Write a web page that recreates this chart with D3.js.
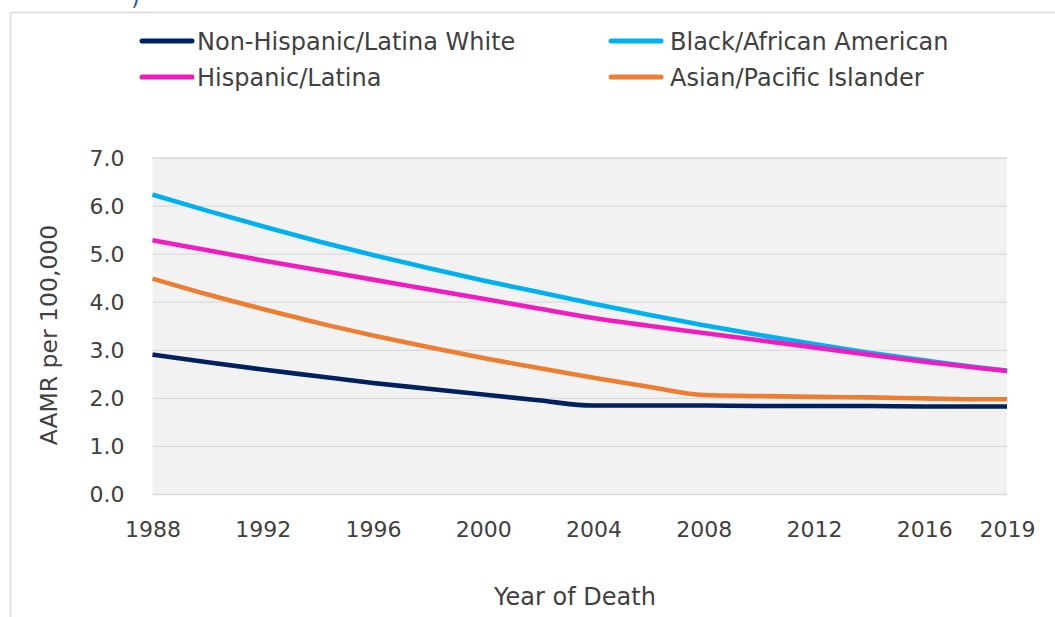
<!DOCTYPE html>
<html><head><meta charset="utf-8">
<script src="https://cdn.jsdelivr.net/npm/d3@7"></script>
<style>
html,body{margin:0;padding:0;background:#fff;}
svg{display:block;font-family:"DejaVu Sans",sans-serif;}
</style></head>
<body><svg id="c" width="1055" height="617"></svg>
<script>
const years = [1988,1990,1992,1994,1996,1998,2000,2002,2004,2006,2008,2010,2012,2014,2016,2018,2019];
const whiteVals    = [2.91,2.75,2.60,2.46,2.32,2.20,2.08,1.96,1.85,1.85,1.85,1.84,1.84,1.84,1.83,1.83,1.83];
const blackVals    = [6.24,5.90,5.58,5.27,4.98,4.71,4.45,4.21,3.97,3.74,3.52,3.32,3.13,2.95,2.79,2.64,2.58];
const hispanicVals = [5.29,5.08,4.87,4.67,4.47,4.27,4.07,3.87,3.67,3.51,3.36,3.21,3.06,2.91,2.76,2.63,2.57];
const asianVals    = [4.49,4.16,3.86,3.57,3.31,3.07,2.84,2.63,2.43,2.24,2.07,2.05,2.03,2.02,2.00,1.98,1.98];
const seriesNames  = ["Non-Hispanic/Latina White","Black/African American","Hispanic/Latina","Asian/Pacific Islander"];
const seriesColors = ["#002060","#00b0f0","#f01cc0","#ed7d31"];
const xTicks = [1988,1992,1996,2000,2004,2008,2012,2016,2019];
const yTicks = [0,1,2,3,4,5,6,7];
const xTitle = "Year of Death";
const yTitle = "AAMR per 100,000";

const svg = d3.select("#c");
const textColor = "#404040";
const fs = 22, fsBig = 24;
// outer frame
svg.append("path").attr("d","M10.5,617 V12.5 H1055").attr("fill","none").attr("stroke","#d9d9d9").attr("stroke-width",1.5);
// cut-off title glyph
svg.append("text").attr("x",131).attr("y",5).attr("font-size",22).attr("fill","#2e5597").text(")");

const m = {l:152.5, r:1007, t:158, b:494.5};
const x = d3.scaleLinear().domain([1988,2019]).range([m.l, m.r]);
const y = d3.scaleLinear().domain([0,7]).range([m.b, m.t]);

svg.append("rect").attr("x",m.l).attr("y",m.t).attr("width",m.r-m.l).attr("height",m.b-m.t).attr("fill","#f2f2f2");
svg.append("g").selectAll("line").data(yTicks).join("line")
  .attr("x1",m.l).attr("x2",m.r).attr("y1",d=>y(d)).attr("y2",d=>y(d))
  .attr("stroke","#d9d9d9").attr("stroke-width",1.3);

// axes
const yAx = svg.append("g").attr("transform",`translate(${m.l},0)`)
  .call(d3.axisLeft(y).tickValues(yTicks).tickFormat(d3.format(".1f")).tickSize(0).tickPadding(28));
yAx.select(".domain").remove();
yAx.selectAll("text").attr("font-size",fs).attr("fill",textColor).attr("font-family","DejaVu Sans");

const xAx = svg.append("g").attr("transform",`translate(0,${m.b})`)
  .call(d3.axisBottom(x).tickValues(xTicks).tickFormat(d3.format("d")).tickSize(0).tickPadding(27));
xAx.select(".domain").remove();
xAx.selectAll("text").attr("font-size",fs).attr("fill",textColor).attr("font-family","DejaVu Sans");

svg.append("text").attr("x",575).attr("y",605).attr("text-anchor","middle")
  .attr("font-size",fsBig).attr("fill",textColor).text(xTitle);
svg.append("text").attr("transform","translate(57,335) rotate(-90)").attr("text-anchor","middle")
  .attr("font-size",23.5).attr("fill",textColor).text(yTitle);

// lines
const allVals = [whiteVals, blackVals, hispanicVals, asianVals];
const line = d3.line().x(d=>x(d[0])).y(d=>y(d[1])).curve(d3.curveMonotoneX);
const drawOrder = [1,2,3,0];
drawOrder.forEach(i=>{
  svg.append("path").datum(years.map((yr,k)=>[yr, allVals[i][k]]))
    .attr("d",line).attr("fill","none").attr("stroke",seriesColors[i])
    .attr("stroke-width",4.6).attr("stroke-linejoin","round");
});

// legend
const legPos = [[140,41,197],[609,41,670],[140,77,197],[609,77,670]];
seriesNames.forEach((n,i)=>{
  const [lx,ly,tx] = legPos[i];
  svg.append("line").attr("x1",lx+2).attr("x2",lx+52).attr("y1",ly).attr("y2",ly)
    .attr("stroke",seriesColors[i]).attr("stroke-width",5).attr("stroke-linecap","round");
  svg.append("text").attr("x",tx).attr("y",ly+8.5).attr("font-size",fsBig).attr("fill",textColor).text(n);
});
</script></body></html>
